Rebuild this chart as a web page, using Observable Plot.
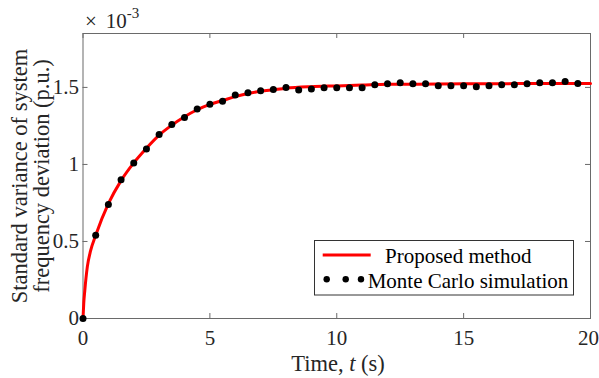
<!DOCTYPE html>
<html><head><meta charset="utf-8">
<script src="https://cdn.jsdelivr.net/npm/d3@7"></script>
<script src="https://cdn.jsdelivr.net/npm/@observablehq/plot@0.6"></script>
<style>
body{margin:0;background:#fff;}
#chart{width:599px;height:378px;overflow:hidden;}
</style></head><body><div id="chart"></div>
<script>
// Monte Carlo simulation points (values in units of 1e-3 p.u.)
const mcTime = [0,0.5,1,1.5,2,2.5,3,3.5,4,4.5,5,5.5,6,6.5,7,7.5,8,8.5,9,9.5,10,10.5,11,11.5,12,12.5,13,13.5,14,14.5,15,15.5,16,16.5,17,17.5,18,18.5,19,19.5];
const mcValue = [0,0.54,0.74,0.90,1.01,1.10,1.195,1.26,1.305,1.36,1.39,1.41,1.45,1.465,1.478,1.487,1.50,1.483,1.49,1.498,1.498,1.498,1.498,1.517,1.524,1.53,1.524,1.524,1.511,1.511,1.511,1.505,1.511,1.517,1.517,1.524,1.53,1.53,1.538,1.525];
// Proposed method curve (values in units of 1e-3 p.u.)
const lineTime = [0,0.03,0.07,0.17,0.3,0.5,1,1.5,2,2.5,3,3.5,4,4.5,5,5.5,6,6.5,7,7.5,8,9,10,11,12,14,16,18,20];
const lineValue = [0,0.1,0.18,0.335,0.44,0.54,0.745,0.895,1.01,1.105,1.19,1.255,1.31,1.355,1.39,1.415,1.44,1.46,1.475,1.485,1.495,1.505,1.51,1.515,1.52,1.522,1.524,1.525,1.525];
const xTicks = [0,5,10,15,20];
const yTicks = [0,0.5,1,1.5];
const xDomain = [0,20];
const yDomain = [0,1.85];
const seriesNames = ["Proposed method","Monte Carlo simulation"];
const xLabelParts = ["Time, ","t"," (s)"];
const yLabelLines = ["Standard variance of system","frequency deviation (p.u.)"];

const mcData = mcTime.map((t,i)=>({t, v: mcValue[i]}));
const lineData = lineTime.map((t,i)=>({t, v: lineValue[i]}));

const font = "'Liberation Serif','Times New Roman',serif";
const axisColor = "#6a6a6a";
const textColor = "#262626";
const tickLenY = 5/154.3;   // 5px in y units
const tickLenX = 5/25.375;  // 5px in x units

const plot = Plot.plot({
  width: 599, height: 378,
  marginLeft: 82.5, marginRight: 9, marginTop: 33, marginBottom: 60,
  style: {fontFamily: font, fontSize: "21px", color: textColor, background: "#fff", overflow: "visible"},
  x: {domain: xDomain},
  y: {domain: yDomain},
  marks: [
    Plot.ruleX(xTicks, {y1: yDomain[0], y2: yDomain[0] + tickLenY, stroke: axisColor}),
    Plot.ruleX(xTicks, {y1: yDomain[1], y2: yDomain[1] - tickLenY, stroke: axisColor}),
    Plot.ruleY(yTicks, {x1: xDomain[0], x2: xDomain[0] + tickLenX, stroke: axisColor}),
    Plot.ruleY(yTicks, {x1: xDomain[1], x2: xDomain[1] - tickLenX, stroke: axisColor}),
    Plot.frame({stroke: axisColor, strokeWidth: 1}),
    Plot.axisX(xTicks, {tickSize: 0, tickPadding: 12, label: null, fontSize: 21, fill: textColor, tickFormat: d => String(d)}),
    Plot.axisY(yTicks, {tickSize: 0, tickPadding: 4, label: null, fontSize: 21, fill: textColor, tickFormat: d => String(d)}),
    Plot.line(lineData, {x: "t", y: "v", stroke: "#ff0000", strokeWidth: 3, curve: "monotone-x"}),
    Plot.dot(mcData, {x: "t", y: "v", r: 3.5, fill: "#000", stroke: "none"})
  ]
});
document.getElementById("chart").appendChild(plot);

const svg = d3.select(plot);
// enforce tick-label font size
svg.selectAll('g[aria-label$="tick label"]').attr("font-size", 21).style("font-size", "21px")
  .selectAll("text").attr("font-size", 21).style("font-size", "21px");
// nudge last x tick label inside the window as in the reference
svg.selectAll('g[aria-label="x-axis tick label"] text').filter(function(){ return this.textContent === "20"; })
  .attr("dx", -2);
// x label
const xl = svg.append("text").attr("x", 338).attr("y", 371).attr("text-anchor", "middle")
  .attr("font-family", font).attr("font-size", 22.5).attr("fill", textColor);
xl.append("tspan").text(xLabelParts[0]);
xl.append("tspan").attr("font-style", "italic").text(xLabelParts[1]);
xl.append("tspan").text(xLabelParts[2]);
// y label (two lines, rotated)
yLabelLines.forEach((s, i) => {
  svg.append("text").attr("transform", `translate(${27 + i*22},176) rotate(-90)`)
    .attr("text-anchor", "middle").attr("font-family", font).attr("font-size", 22.5)
    .attr("fill", textColor).text(s);
});
// exponent
const ex = svg.append("text").attr("x", 85).attr("y", 28).attr("text-anchor", "start").attr("font-family", font)
  .attr("font-size", 21).attr("fill", textColor);
ex.append("tspan").text("\u00d7");
ex.append("tspan").attr("dx", 9).text("10");
ex.append("tspan").attr("font-size", 15).attr("dy", -10).text("-3");
// legend
const lg = svg.append("g").attr("text-anchor", "start");
lg.append("rect").attr("x", 314.5).attr("y", 240.5).attr("width", 259).attr("height", 54.5)
  .attr("fill", "#fff").attr("stroke", "#333").attr("stroke-width", 1);
lg.append("line").attr("x1", 322.7).attr("x2", 370.7).attr("y1", 255).attr("y2", 255)
  .attr("stroke", "#ff0000").attr("stroke-width", 3);
lg.append("text").attr("x", 385).attr("y", 263).attr("font-family", font).attr("font-size", 21)
  .attr("fill", "#000").text(seriesNames[0]);
[326.7, 345.7, 361].forEach(x => lg.append("circle").attr("cx", x).attr("cy", 279.3).attr("r", 3.2).attr("fill", "#000"));
lg.append("text").attr("x", 367.7).attr("y", 288).attr("font-family", font).attr("font-size", 21)
  .attr("fill", "#000").text(seriesNames[1]);
</script>
</body></html>
